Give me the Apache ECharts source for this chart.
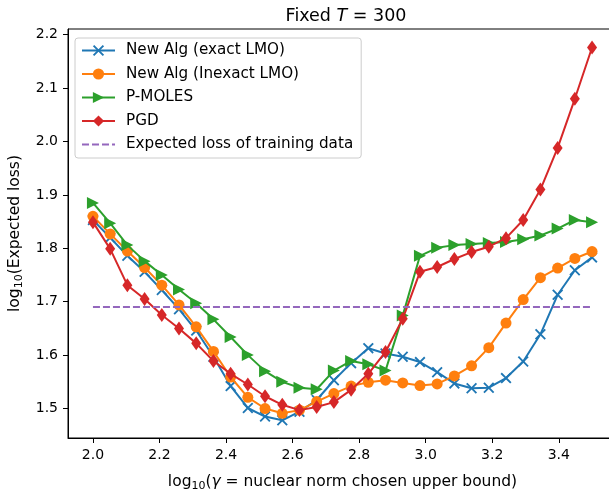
<!DOCTYPE html>
<html>
<head>
<meta charset="utf-8">
<script src="https://cdn.jsdelivr.net/npm/echarts@6/dist/echarts.min.js"></script>
<style>
  html, body { margin: 0; padding: 0; background: #fff; }
  #chart { width: 609px; height: 490px; }
</style>
</head>
<body>
<div id="chart"></div>
<script>
// log10(gamma), 30 points between 2.0 and 3.5
const xs = [2.0000, 2.0517, 2.1034, 2.1552, 2.2069, 2.2586, 2.3103, 2.3621, 2.4138, 2.4655,
            2.5172, 2.5690, 2.6207, 2.6724, 2.7241, 2.7759, 2.8276, 2.8793, 2.9310, 2.9828,
            3.0345, 3.0862, 3.1379, 3.1897, 3.2414, 3.2931, 3.3448, 3.3966, 3.4483, 3.5000];

const exactLmo = [1.853, 1.820, 1.786, 1.756, 1.722, 1.686, 1.646, 1.597, 1.542, 1.501,
                  1.485, 1.478, 1.494, 1.516, 1.553, 1.585, 1.613, 1.603, 1.597, 1.587,
                  1.568, 1.547, 1.538, 1.539, 1.557, 1.588, 1.639, 1.713, 1.759, 1.783];
const inexactLmo = [1.860, 1.827, 1.795, 1.764, 1.731, 1.694, 1.653, 1.607, 1.559, 1.521,
                    1.500, 1.491, 1.497, 1.513, 1.528, 1.542, 1.549, 1.553, 1.548, 1.543,
                    1.546, 1.561, 1.580, 1.614, 1.660, 1.704, 1.745, 1.763, 1.781, 1.794];
const pMoles = [1.885, 1.847, 1.806, 1.776, 1.750, 1.723, 1.697, 1.667, 1.634, 1.600,
                1.570, 1.550, 1.539, 1.536, 1.571, 1.589, 1.583, 1.571, 1.674, 1.786,
                1.801, 1.806, 1.808, 1.810, 1.812, 1.817, 1.824, 1.837, 1.853, 1.849];
const pgd = [1.849, 1.799, 1.731, 1.705, 1.675, 1.650, 1.622, 1.589, 1.565, 1.545,
             1.523, 1.507, 1.497, 1.503, 1.512, 1.535, 1.565, 1.606, 1.668, 1.756,
             1.765, 1.780, 1.793, 1.803, 1.819, 1.853, 1.910, 1.988, 2.080, 2.176];
const trainLoss = 1.690;

const xTicks = [2.0, 2.2, 2.4, 2.6, 2.8, 3.0, 3.2, 3.4];
const yTicks = [1.5, 1.6, 1.7, 1.8, 1.9, 2.0, 2.1, 2.2];

const names = ['New Alg (exact LMO)', 'New Alg (Inexact LMO)', 'P-MOLES', 'PGD', 'Expected loss of training data'];
const colors = ['#1f77b4', '#ff7f0e', '#2ca02c', '#d62728', '#9467bd'];

const FONT = 'DejaVu Sans';
const xMarker = 'path://M0,1.2L1.2,0L5,3.8L8.8,0L10,1.2L6.2,5L10,8.8L8.8,10L5,6.2L1.2,10L0,8.8L3.8,5Z';
const triMarker = 'path://M0,0L10,5L0,10Z';
const diaMarker = 'path://M3,0L6,5L3,10L0,5Z';

function pairs(ys) {
  return xs.map(function (x, i) { return [x, ys[i]]; });
}

const richLabel = {
  n: { fontFamily: FONT, fontSize: 15.5, color: '#000', lineHeight: 20 },
  i: { fontFamily: FONT, fontSize: 15.5, color: '#000', lineHeight: 20, fontStyle: 'italic' },
  sub: { fontFamily: FONT, fontSize: 11, color: '#000', lineHeight: 12, padding: [8, 0, 0, 0] }
};

var dom = document.getElementById('chart');
var chart = echarts.init(dom, null, { renderer: 'canvas' });

function lineSeries(idx, ys, symbol, size) {
  return {
    name: names[idx],
    type: 'line',
    data: pairs(ys),
    symbol: symbol,
    symbolSize: size,
    showSymbol: true,
    color: colors[idx],
    lineStyle: { color: colors[idx], width: 2 },
    itemStyle: { color: colors[idx] },
    z: 2 + idx
  };
}

var option = {
  animation: false,
  backgroundColor: '#fff',
  title: {
    text: '{n|Fixed }{i|T}{n| = 300}',
    left: 341,
    top: 2,
    textAlign: 'center',
    textStyle: {
      rich: {
        n: { fontFamily: FONT, fontSize: 17.5, color: '#000', fontWeight: 'normal' },
        i: { fontFamily: FONT, fontSize: 17.5, color: '#000', fontStyle: 'italic', fontWeight: 'normal' }
      }
    }
  },
  grid: {
    left: 68, right: -8, top: 29, bottom: 52,
    outerBoundsMode: 'none',
    containLabel: false,
    show: true, borderColor: '#000', borderWidth: 1, backgroundColor: 'transparent'
  },
  legend: {
    orient: 'vertical',
    left: 75, top: 38,
    padding: [5, 8, 6, 6],
    itemWidth: 33,
    itemHeight: 14,
    itemGap: 8.5,
    backgroundColor: 'rgba(255,255,255,0.8)',
    borderColor: '#cccccc',
    borderWidth: 1,
    borderRadius: 3,
    selectedMode: false,
    textStyle: { fontFamily: FONT, fontSize: 15.2, color: '#000', padding: [0, 0, 0, 6] },
    data: [
      { name: names[0] }, { name: names[1] }, { name: names[2] }, { name: names[3] },
      { name: names[4], itemStyle: { opacity: 0 } }
    ]
  },
  xAxis: {
    type: 'value',
    min: 1.925,
    max: 3.575,
    name: '{n|log}{sub|10}{n|(}{i|γ}{n| = nuclear norm chosen upper bound)}',
    nameLocation: 'middle',
    nameGap: 34,
    nameTextStyle: { rich: richLabel },
    axisLine: { show: true, lineStyle: { color: '#000', width: 1 } },
    axisTick: { show: true, inside: false, length: 5, customValues: xTicks, lineStyle: { color: '#000' } },
    axisLabel: {
      customValues: xTicks, margin: 10,
      fontFamily: FONT, fontSize: 14, color: '#000',
      formatter: function (v) { return v.toFixed(1); }
    },
    splitLine: { show: false }
  },
  yAxis: {
    type: 'value',
    min: 1.4448,
    max: 2.2107,
    name: '{n|log}{sub|10}{n|(Expected loss)}',
    nameLocation: 'middle',
    nameRotate: 90,
    nameGap: 42,
    nameTextStyle: { rich: richLabel },
    axisLine: { show: true, lineStyle: { color: '#000', width: 1 } },
    axisTick: { show: true, inside: false, length: 5, customValues: yTicks, lineStyle: { color: '#000' } },
    axisLabel: {
      customValues: yTicks, margin: 10,
      fontFamily: FONT, fontSize: 14, color: '#000',
      formatter: function (v) { return v.toFixed(1); }
    },
    splitLine: { show: false }
  },
  series: [
    lineSeries(0, exactLmo, xMarker, 11),
    lineSeries(1, inexactLmo, 'circle', 11),
    lineSeries(2, pMoles, triMarker, 12),
    lineSeries(3, pgd, diaMarker, [10, 14]),
    {
      name: names[4],
      type: 'line',
      data: [[xs[0], trainLoss], [xs[xs.length - 1], trainLoss]],
      symbol: 'none',
      color: colors[4],
      itemStyle: { color: colors[4] },
      lineStyle: { color: colors[4], width: 2, type: [7, 3] },
      z: 7
    }
  ]
};

chart.setOption(option);
window.addEventListener('resize', chart.resize);
</script>
</body>
</html>
